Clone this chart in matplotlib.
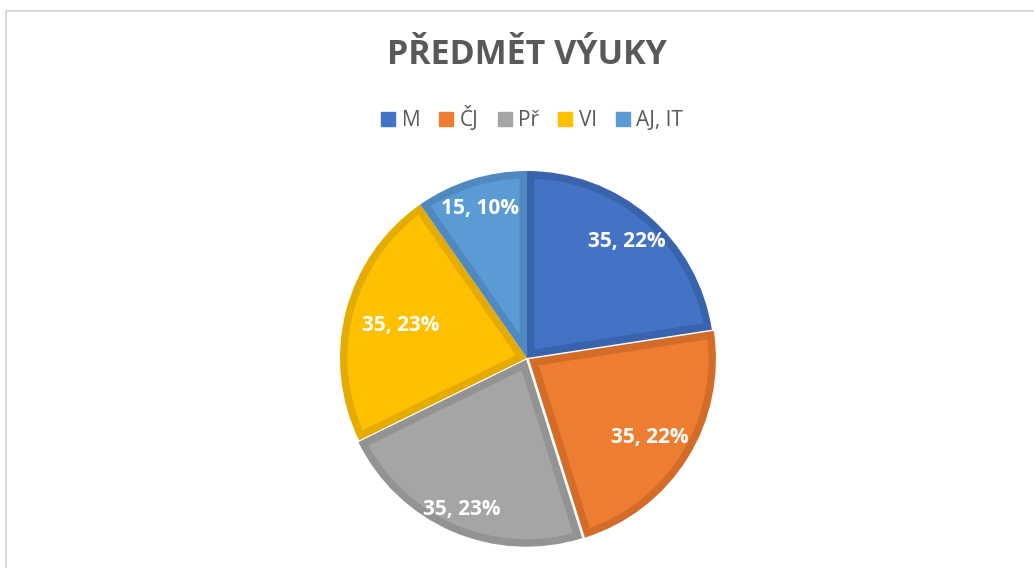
import matplotlib
matplotlib.use("Agg")
import matplotlib.pyplot as plt
import numpy as np
from matplotlib.patches import Rectangle, Polygon
from matplotlib.lines import Line2D

categories = ["M", "ČJ", "Př", "Vl", "AJ, IT"]
values = [35, 35, 35, 35, 15]
percent_labels = ["22%", "22%", "23%", "23%", "10%"]
title_text = "PŘEDMĚT VÝUKY"

face_colors = ["#4472C4", "#ED7D31", "#A5A5A5", "#FFC000", "#5B9BD5"]
edge_colors = ["#3A63AE", "#D26C28", "#939393", "#E4AB00", "#4F89BF"]
explode = [0.0, 0.012, 0.01, 0.0, 0.0]
label_r = [0.82, 0.77, 0.87, 0.70, 0.84]
label_da = [0, -1, 0, 0, 0]

W, H = 1034, 568
fig = plt.figure(figsize=(W / 100, H / 100), dpi=100)
fig.patch.set_facecolor("white")

# chart frame
fig.patches.append(Rectangle((6 / W, -0.1), 1.2, (H - 11) / H + 0.1, transform=fig.transFigure,
                             facecolor="none", edgecolor="#D9D9D9", linewidth=1.5))

cx, cy, r = 527, H - 358, 187
ax = fig.add_axes([(cx - r) / W, (cy - r) / H, 2 * r / W, 2 * r / H])
ax.set_aspect("equal")

wedges, _ = ax.pie(values, colors=edge_colors, startangle=90, counterclock=False,
                   explode=explode, radius=1.0, wedgeprops=dict(linewidth=0, clip_on=False))

# inner (lighter) fill, inset from every edge of each wedge
d = 7.5 / r  # inset in data units
for w, fc in zip(wedges, face_colors):
    ox, oy = w.center
    R = w.r
    t1, t2 = np.deg2rad(w.theta1), np.deg2rad(w.theta2)
    half = (t2 - t1) / 2
    bis = t1 + half
    apex_off = d / np.sin(half)
    ax_ = ox + apex_off * np.cos(bis)
    ay_ = oy + apex_off * np.sin(bis)
    delta = np.arcsin(d / (R - d))
    angs = np.linspace(t1 + delta, t2 - delta, 200)
    pts = [(ax_, ay_)] + [(ox + (R - d) * np.cos(a), oy + (R - d) * np.sin(a)) for a in angs]
    ax.add_patch(Polygon(pts, closed=True, facecolor=fc, edgecolor="none",
                         zorder=w.get_zorder() + 0.1, clip_on=False))

for w, v, p, lr, da in zip(wedges, values, percent_labels, label_r, label_da):
    ang = np.deg2rad((w.theta1 + w.theta2) / 2 + da)
    ox, oy = w.center
    ax.text(ox + lr * np.cos(ang), oy + lr * np.sin(ang), f"{v}, {p}",
            ha="center", va="center", color="white", fontsize=15,
            fontweight="bold", family="Open Sans", zorder=5, clip_on=False)

ax.set_xlim(-1.0, 1.0)
ax.set_ylim(-1.0, 1.0)
ax.axis("off")

fig.text(527 / W, 1 - 55 / H, title_text, ha="center", va="center",
         fontsize=24.5, fontweight="bold", color="#595959", family="Open Sans")

handles = [Line2D([], [], marker="s", linestyle="none", markersize=9.5,
                  markerfacecolor=c, markeredgecolor=c) for c in face_colors]
leg = fig.legend(handles, categories, loc="center", bbox_to_anchor=(532 / W, 1 - 119 / H),
                 ncol=5, frameon=False, handlelength=0.7, handletextpad=0.3,
                 columnspacing=0.9, prop=dict(family="Open Sans", size=15))
for t in leg.get_texts():
    t.set_color("#595959")

fig.savefig("out.png", dpi=100, facecolor="white")
